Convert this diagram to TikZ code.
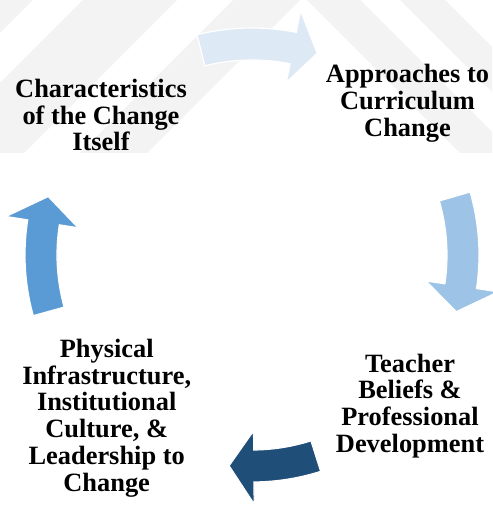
\documentclass[tikz,border=0pt]{standalone}
\usepackage{fontspec}
\setmainfont{Liberation Serif}
\definecolor{wmgray}{RGB}{243,243,243}
\definecolor{arrowA}{HTML}{DDE9F5}
\definecolor{arrowB}{HTML}{9DC3E6}
\definecolor{arrowC}{HTML}{1F4E79}
\definecolor{arrowD}{HTML}{5B9BD5}
% curved cycle arrow: fill colour, tail start angle, head base angle, tip angle
\newcommand\ringarrow[4]{%
  \filldraw[cyclearrow, fill=#1]
    (#2:227) arc[start angle=#2, end angle=#3, radius=227]
    -- (#3:249) -- (#4:212) -- (#3:176) -- (#3:195)
    arc[start angle=#3, end angle=#2, radius=195] -- cycle;}
\begin{document}
\begin{tikzpicture}[x=1pt,y=-1pt]
\tikzset{
  cyclelabel/.style={font=\fontsize{26.4}{26.8}\selectfont\bfseries,
    align=center, inner sep=0pt, text=black},
  cyclearrow/.style={draw=white, line width=1.2pt, line join=miter},
}
\fill[white] (0,0) rectangle (492,505);
\useasboundingbox (0,0) rectangle (492,505);
% faint striped background band along the top
\begin{scope}
  \clip (0,0) rectangle (492,153);
  \foreach \a/\b in {-60/33, 83/177, 233/300}
    \fill[wmgray] (\a,0) -- (\b,0) -- (\b-153,153) -- (\a-153,153) -- cycle;
  \foreach \a/\b in {307/360, 400/445}
    \fill[wmgray] (\a,0) -- (\b,0) -- (\b+153,153) -- (\a+153,153) -- cycle;
\end{scope}
% the four arrows of the cycle
\begin{scope}[shift={(252,255)}, y=1pt]
  \ringarrow{arrowA}{104}{78.75}{72.1}
  \ringarrow{arrowB}{16.1}{-8.5}{-15.5}
  \ringarrow{arrowC}{-72.4}{-89.5}{-96.2}
  \ringarrow{arrowD}{195.5}{171.1}{164}
\end{scope}
% stage labels
\node[cyclelabel] (itself) at (101,115) {Characteristics\\of the Change\\Itself};
\node[cyclelabel] (approaches) at (407.5,103.5) {Approaches to\\Curriculum\\Change};
\node[cyclelabel] (teacher) at (410,406) {Teacher\\Beliefs \&\\Professional\\Development};
\node[cyclelabel] (infra) at (106.7,418) {Physical\\Infrastructure,\\Institutional\\Culture, \&\\Leadership to\\Change};
\end{tikzpicture}
\end{document}
